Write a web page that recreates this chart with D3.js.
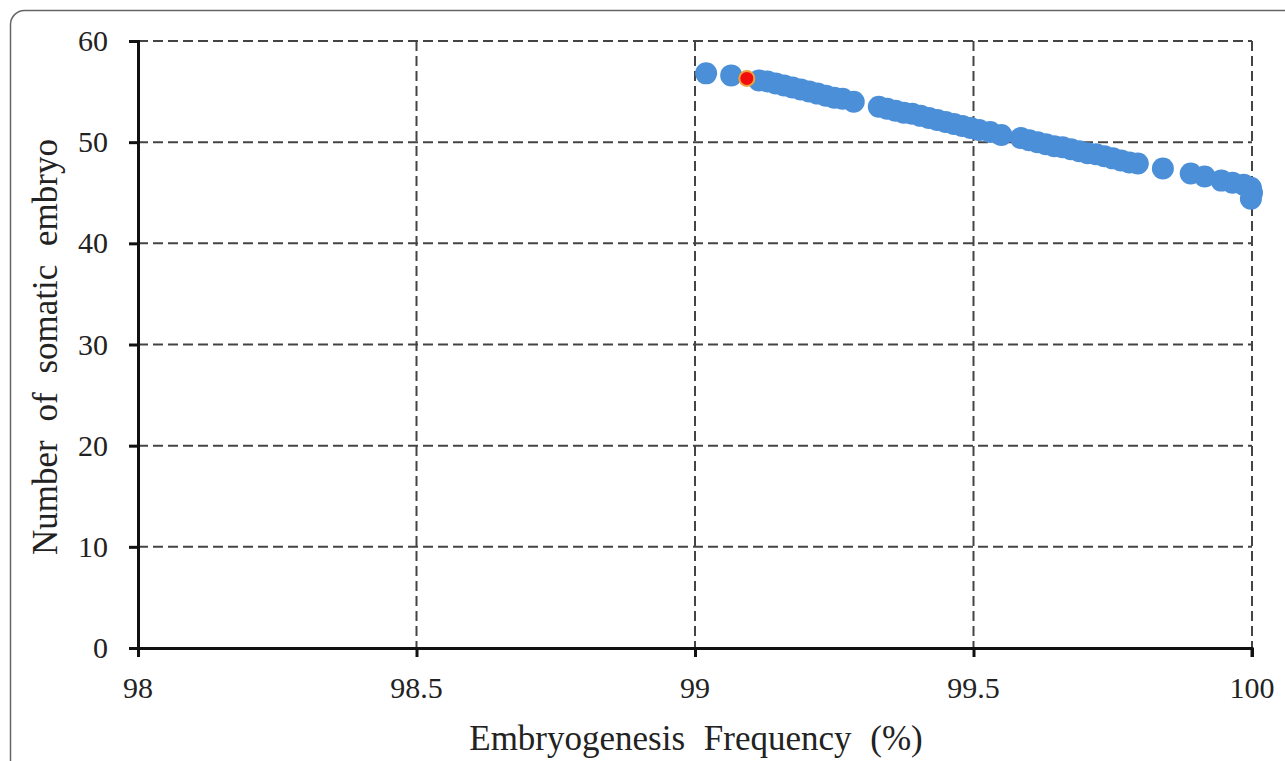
<!DOCTYPE html>
<html>
<head>
<meta charset="utf-8">
<script src="https://cdn.jsdelivr.net/npm/d3@7"></script>
<style>
  body { margin: 0; background: #fff; }
  svg text { font-family: "Liberation Serif", "Times New Roman", serif; fill: #222; }
</style>
</head>
<body>
<div id="chart"></div>
<script>
var svgWidth = 1285;
var svgHeight = 761;

// plot area edges (pixels)
var margin = { top: 41, right: 33, bottom: 113, left: 138 };
var width = svgWidth - margin.left - margin.right;
var height = svgHeight - margin.top - margin.bottom;

// data
var freq = [99.02, 99.065, 99.115, 99.13, 99.145, 99.16, 99.175, 99.19, 99.205, 99.22, 99.235, 99.25, 99.265, 99.285,
            99.33, 99.345, 99.36, 99.375, 99.39, 99.405, 99.42, 99.435, 99.45, 99.465, 99.48, 99.495, 99.51, 99.53, 99.55,
            99.585, 99.6, 99.615, 99.63, 99.645, 99.66, 99.675, 99.69, 99.705, 99.72, 99.735, 99.75, 99.765, 99.78, 99.795,
            99.84, 99.89, 99.915, 99.945, 99.965, 99.985, 99.998, 100.0, 99.998];
var embryo = [56.8, 56.6, 56.1, 56.0, 55.8, 55.6, 55.4, 55.2, 55.0, 54.8, 54.6, 54.4, 54.3, 54.0,
              53.5, 53.3, 53.1, 52.9, 52.8, 52.6, 52.4, 52.2, 52.0, 51.8, 51.6, 51.4, 51.2, 51.0, 50.7,
              50.4, 50.2, 50.0, 49.8, 49.6, 49.5, 49.3, 49.1, 48.9, 48.8, 48.6, 48.4, 48.2, 48.0, 47.9,
              47.4, 46.9, 46.6, 46.2, 46.0, 45.8, 45.5, 45.0, 44.4];
var optFreq = [99.093];
var optEmbryo = [56.3];

var xTicks = [98, 98.5, 99, 99.5, 100];
var xTickLabels = ["98", "98.5", "99", "99.5", "100"];
var yTicks = [0, 10, 20, 30, 40, 50, 60];

var svg = d3.select("#chart")
    .append("svg")
    .attr("width", svgWidth)
    .attr("height", svgHeight);

// rounded frame around the figure
svg.append("rect")
    .attr("x", 10.5)
    .attr("y", 10.5)
    .attr("width", 1400)
    .attr("height", 900)
    .attr("rx", 14)
    .attr("fill", "none")
    .attr("stroke", "#666")
    .attr("stroke-width", 1.5);

var chartGroup = svg.append("g")
    .attr("transform", `translate(${margin.left}, ${margin.top})`);

var xScale = d3.scaleLinear().domain([98, 100]).range([0, width]);
var yScale = d3.scaleLinear().domain([0, 60]).range([height, 0]);

// dashed grid
chartGroup.append("g")
    .selectAll("line")
    .data(yTicks.filter(d => d > 0))
    .enter()
    .append("line")
    .attr("x1", 0)
    .attr("x2", width)
    .attr("y1", d => yScale(d))
    .attr("y2", d => yScale(d))
    .attr("stroke", "#444")
    .attr("stroke-width", 2)
    .attr("stroke-dasharray", "10,5");

chartGroup.append("g")
    .selectAll("line")
    .data(xTicks.filter(d => d > 98))
    .enter()
    .append("line")
    .attr("x1", d => xScale(d))
    .attr("x2", d => xScale(d))
    .attr("y1", 0)
    .attr("y2", height)
    .attr("stroke", "#444")
    .attr("stroke-width", 2)
    .attr("stroke-dasharray", "10,5");

// axes (ticks only, labels drawn below)
var bottomAxis = d3.axisBottom(xScale).tickValues(xTicks).tickSize(9).tickFormat("");
var leftAxis = d3.axisLeft(yScale).tickValues(yTicks).tickSize(9).tickFormat("");

var xAxisG = chartGroup.append("g")
    .attr("transform", `translate(0, ${height})`)
    .call(bottomAxis);
var yAxisG = chartGroup.append("g")
    .call(leftAxis);

[xAxisG, yAxisG].forEach(function(g) {
    g.select(".domain").attr("stroke", "#111").attr("stroke-width", 3);
    g.selectAll(".tick line").attr("stroke", "#111").attr("stroke-width", 3);
});
yAxisG.select(".domain").attr("d", `M-9,0.5H0.5V${height}`);
xAxisG.select(".domain").attr("d", `M0,0.5H${width}V9`);

// tick labels
chartGroup.append("g")
    .selectAll("text")
    .data(xTicks)
    .enter()
    .append("text")
    .attr("x", d => xScale(d))
    .attr("y", height + 50)
    .attr("text-anchor", "middle")
    .attr("font-family", "Liberation Serif")
    .attr("font-size", 30)
    .text((d, i) => xTickLabels[i]);

chartGroup.append("g")
    .selectAll("text")
    .data(yTicks)
    .enter()
    .append("text")
    .attr("x", -30)
    .attr("y", d => yScale(d) + 10)
    .attr("text-anchor", "end")
    .attr("font-family", "Liberation Serif")
    .attr("font-size", 30)
    .text(d => d);

// points
chartGroup.append("g")
    .selectAll("circle")
    .data(freq.map((d, i) => ({ x: d, y: embryo[i] })))
    .enter()
    .append("circle")
    .attr("cx", d => xScale(d.x))
    .attr("cy", d => yScale(d.y))
    .attr("r", 11)
    .attr("fill", "#4b8fd8");

chartGroup.append("g")
    .selectAll("circle")
    .data(optFreq.map((d, i) => ({ x: d, y: optEmbryo[i] })))
    .enter()
    .append("circle")
    .attr("cx", d => xScale(d.x))
    .attr("cy", d => yScale(d.y))
    .attr("r", 7.5)
    .attr("fill", "#f20d0d")
    .attr("stroke", "#f0a23a")
    .attr("stroke-width", 2);

// axis titles
svg.append("text")
    .attr("x", 696)
    .attr("y", 750)
    .attr("text-anchor", "middle")
    .style("font-size", "35px")
    .style("word-spacing", "10px")
    .text("Embryogenesis Frequency (%)");

svg.append("text")
    .attr("transform", "translate(57, 347) rotate(-90)")
    .attr("text-anchor", "middle")
    .style("font-size", "35px")
    .style("word-spacing", "10px")
    .text("Number of somatic embryo");
</script>
</body>
</html>
